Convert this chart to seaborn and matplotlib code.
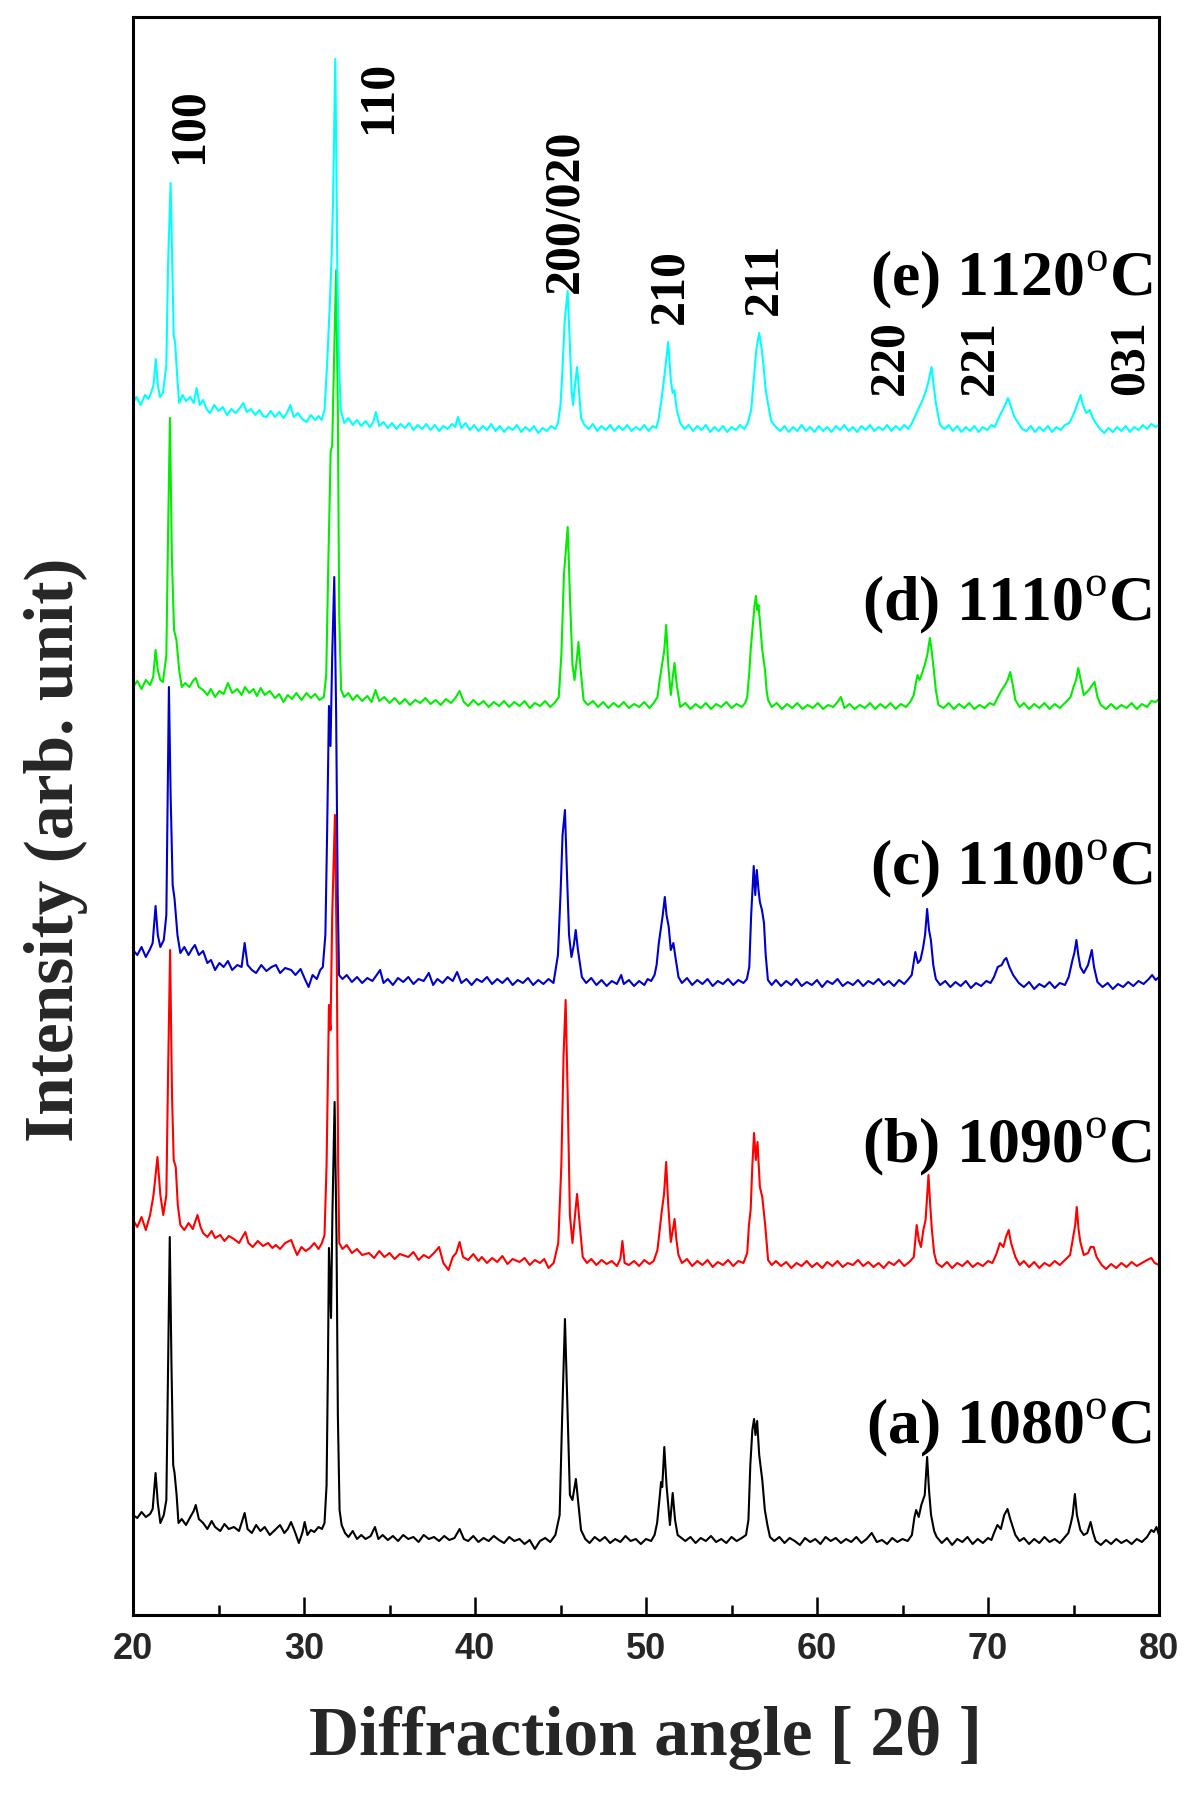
import matplotlib
matplotlib.use("Agg")
import matplotlib.pyplot as plt
import seaborn as sns
import numpy as np
import pandas as pd
from matplotlib.ticker import MultipleLocator

# ---------------- data (2theta, intensity in arbitrary units, stacked) ----------------
pattern_a = [(20.0,100),(20.25,97),(20.5,103),(20.75,98),(21.0,101),(21.15,106),(21.32,142),(21.45,112),(21.6,92),(21.8,100),(21.95,115),(22.05,250),(22.15,378),(22.25,250),(22.35,150),(22.43,142),(22.55,120),(22.66,92),(22.85,96),(23.1,90),(23.35,98),(23.55,104),(23.67,110),(23.85,96),(24.1,92),(24.35,86),(24.6,94),(24.8,88),(25.1,84),(25.35,91),(25.6,86),(25.9,88),(26.2,84),(26.53,102),(26.7,86),(26.95,82),(27.2,90),(27.45,84),(27.7,88),(28.0,80),(28.3,85),(28.6,90),(28.85,82),(29.05,86),(29.24,93),(29.45,84),(29.7,72),(29.9,82),(30.04,93),(30.2,80),(30.4,85),(30.6,83),(30.85,88),(31.05,86),(31.2,92),(31.32,130),(31.4,250),(31.46,367),(31.52,330),(31.58,297),(31.66,400),(31.79,513),(31.9,380),(31.98,200),(32.08,105),(32.2,90),(32.4,82),(32.6,78),(32.85,84),(33.1,76),(33.35,80),(33.6,76),(33.9,79),(34.15,88),(34.35,76),(34.6,80),(34.9,75),(35.2,79),(35.5,74),(35.8,80),(36.1,76),(36.4,78),(36.7,73),(37.0,80),(37.3,76),(37.6,78),(37.9,74),(38.2,79),(38.5,75),(38.8,77),(39.1,86),(39.35,76),(39.6,74),(39.9,79),(40.2,73),(40.5,77),(40.8,74),(41.1,79),(41.4,75),(41.7,72),(42.0,78),(42.3,74),(42.6,76),(42.9,71),(43.2,75),(43.5,66),(43.8,74),(44.1,77),(44.4,73),(44.7,80),(44.95,100),(45.1,200),(45.26,296),(45.4,210),(45.55,120),(45.7,115),(45.9,136),(46.05,110),(46.2,85),(46.45,76),(46.7,72),(47.0,78),(47.3,74),(47.6,78),(47.9,72),(48.2,76),(48.5,73),(48.8,79),(49.1,74),(49.4,76),(49.7,71),(50.0,76),(50.3,74),(50.5,80),(50.65,92),(50.8,118),(50.88,133),(50.95,128),(51.07,168),(51.2,130),(51.4,90),(51.56,122),(51.7,95),(51.85,80),(52.0,78),(52.3,74),(52.6,78),(52.9,72),(53.2,77),(53.5,74),(53.8,79),(54.1,73),(54.4,76),(54.7,72),(55.0,78),(55.3,74),(55.6,77),(55.85,80),(55.99,95),(56.1,150),(56.22,185),(56.32,196),(56.4,180),(56.5,194),(56.62,160),(56.8,135),(56.95,105),(57.1,90),(57.25,78),(57.5,74),(57.8,78),(58.1,72),(58.4,77),(58.7,74),(59.0,70),(59.3,77),(59.6,73),(59.9,76),(60.2,71),(60.5,78),(60.8,74),(61.1,77),(61.4,72),(61.7,76),(62.0,73),(62.3,78),(62.6,72),(62.9,76),(63.2,82),(63.5,73),(63.8,75),(64.1,71),(64.4,77),(64.7,73),(65.0,76),(65.3,74),(65.55,80),(65.7,98),(65.8,105),(65.95,98),(66.1,110),(66.3,120),(66.44,158),(66.55,125),(66.67,100),(66.85,84),(67.0,78),(67.3,72),(67.6,77),(67.9,70),(68.2,76),(68.5,73),(68.8,78),(69.1,71),(69.4,76),(69.7,72),(70.0,77),(70.2,75),(70.35,82),(70.55,90),(70.75,86),(70.95,100),(71.14,106),(71.3,96),(71.45,88),(71.6,80),(71.85,74),(72.1,77),(72.4,71),(72.7,76),(73.0,72),(73.3,78),(73.6,73),(73.9,76),(74.2,72),(74.5,78),(74.7,82),(74.85,92),(74.95,100),(75.08,121),(75.2,100),(75.4,85),(75.6,80),(75.8,82),(76.0,93),(76.15,82),(76.3,74),(76.6,70),(76.9,75),(77.2,71),(77.5,76),(77.8,72),(78.1,75),(78.4,71),(78.7,76),(79.0,73),(79.3,78),(79.55,85),(79.7,83),(79.85,88),(80.0,80)]

pattern_b = [(20.0,395),(20.25,388),(20.5,398),(20.75,385),(21.0,400),(21.2,420),(21.43,458),(21.6,420),(21.77,400),(21.95,420),(22.05,540),(22.17,665),(22.28,520),(22.38,455),(22.5,448),(22.62,410),(22.77,390),(23.0,385),(23.25,392),(23.5,386),(23.77,400),(23.95,388),(24.1,382),(24.35,378),(24.6,384),(24.8,377),(25.1,380),(25.35,374),(25.6,379),(25.9,376),(26.2,372),(26.57,383),(26.75,372),(27.0,368),(27.3,374),(27.6,369),(27.9,372),(28.15,367),(28.35,370),(28.6,366),(28.9,372),(29.25,375),(29.45,366),(29.6,360),(29.85,368),(30.1,364),(30.35,367),(30.6,372),(30.85,366),(31.05,372),(31.2,380),(31.32,450),(31.46,610),(31.55,585),(31.65,700),(31.81,800),(31.92,650),(32.0,450),(32.06,372),(32.25,366),(32.5,370),(32.8,362),(33.1,366),(33.4,360),(33.8,362),(34.1,357),(34.4,364),(34.7,358),(35.0,362),(35.3,356),(35.6,361),(36.1,358),(36.4,363),(36.7,355),(37.0,360),(37.3,357),(37.6,362),(37.9,368),(38.15,352),(38.45,345),(38.7,358),(38.9,362),(39.1,373),(39.3,358),(39.6,355),(39.9,361),(40.2,354),(40.4,358),(40.7,352),(41.0,357),(41.3,353),(41.6,359),(41.9,351),(42.2,356),(42.6,353),(42.9,357),(43.2,350),(43.5,355),(43.8,352),(44.05,356),(44.3,347),(44.6,352),(44.87,372),(45.05,450),(45.18,560),(45.3,615),(45.42,520),(45.55,400),(45.7,372),(45.85,400),(45.97,421),(46.1,395),(46.3,358),(46.55,352),(46.8,356),(47.1,350),(47.4,355),(47.7,351),(48.0,354),(48.3,349),(48.5,356),(48.62,374),(48.75,352),(49.0,350),(49.3,354),(49.6,349),(49.9,355),(50.2,351),(50.45,354),(50.67,365),(50.8,385),(50.93,405),(51.05,420),(51.18,453),(51.3,410),(51.45,373),(51.57,385),(51.67,396),(51.78,375),(51.9,360),(52.1,352),(52.4,356),(52.7,349),(53.0,354),(53.3,350),(53.6,355),(53.9,348),(54.2,353),(54.5,350),(54.8,355),(55.1,349),(55.4,354),(55.7,352),(55.92,362),(56.02,390),(56.12,405),(56.22,450),(56.32,482),(56.42,455),(56.52,473),(56.66,428),(56.8,418),(56.97,390),(57.14,355),(57.35,350),(57.6,354),(57.9,349),(58.2,353),(58.5,347),(58.8,352),(59.1,349),(59.4,354),(59.7,348),(60.0,352),(60.3,347),(60.6,353),(60.9,349),(61.2,354),(61.5,348),(61.8,352),(62.1,350),(62.4,355),(62.7,349),(63.0,353),(63.3,348),(63.6,352),(63.9,347),(64.2,353),(64.5,350),(64.8,355),(65.1,349),(65.4,353),(65.66,358),(65.83,390),(65.95,375),(66.08,368),(66.22,385),(66.35,395),(66.52,440),(66.62,410),(66.72,385),(66.85,362),(67.0,352),(67.3,348),(67.6,353),(67.9,347),(68.2,352),(68.5,349),(68.8,354),(69.1,348),(69.4,352),(69.7,349),(70.0,354),(70.25,352),(70.47,360),(70.7,372),(70.9,368),(71.05,378),(71.21,385),(71.35,372),(71.6,358),(71.85,350),(72.1,354),(72.4,348),(72.7,353),(73.0,347),(73.3,352),(73.6,349),(73.9,354),(74.2,350),(74.5,355),(74.8,360),(74.95,375),(75.1,390),(75.19,408),(75.3,385),(75.4,373),(75.6,360),(75.85,362),(76.0,368),(76.18,368),(76.35,358),(76.65,350),(76.9,346),(77.2,351),(77.5,347),(77.8,352),(78.1,348),(78.4,353),(78.7,349),(79.0,352),(79.3,355),(79.55,357),(79.75,352),(80.0,350)]

pattern_c = [(20.0,665),(20.25,660),(20.5,668),(20.75,658),(21.0,666),(21.15,672),(21.32,709),(21.45,680),(21.6,668),(21.8,675),(21.95,700),(22.03,820),(22.1,928),(22.2,820),(22.32,730),(22.43,716),(22.6,680),(22.77,662),(23.0,668),(23.25,660),(23.45,666),(23.62,670),(23.85,660),(24.1,664),(24.35,652),(24.56,655),(24.8,645),(25.05,652),(25.3,648),(25.55,654),(25.8,645),(26.1,650),(26.35,648),(26.53,672),(26.7,650),(26.95,645),(27.2,642),(27.5,650),(27.8,644),(28.1,648),(28.36,650),(28.6,642),(28.9,647),(29.25,645),(29.5,640),(29.8,646),(30.05,636),(30.27,628),(30.5,640),(30.75,636),(30.95,645),(31.1,648),(31.25,680),(31.35,780),(31.46,909),(31.55,869),(31.65,960),(31.77,1038),(31.88,900),(31.97,720),(32.05,640),(32.25,636),(32.5,640),(32.8,633),(33.1,638),(33.4,632),(33.7,637),(34.0,634),(34.25,640),(34.45,645),(34.65,632),(34.9,636),(35.2,630),(35.5,637),(35.8,633),(36.1,638),(36.4,631),(36.7,636),(37.0,634),(37.3,642),(37.55,630),(37.8,636),(38.1,632),(38.4,638),(38.7,634),(38.95,643),(39.2,632),(39.5,636),(39.8,630),(40.1,636),(40.4,633),(40.7,638),(41.0,631),(41.3,636),(41.6,632),(41.9,637),(42.2,630),(42.5,635),(42.8,632),(43.1,637),(43.4,630),(43.7,635),(44.0,631),(44.3,636),(44.59,632),(44.85,660),(45.0,720),(45.12,780),(45.26,805),(45.38,740),(45.5,680),(45.64,658),(45.78,670),(45.89,685),(46.02,665),(46.25,638),(46.5,632),(46.8,637),(47.1,630),(47.4,635),(47.7,629),(48.0,634),(48.3,631),(48.55,640),(48.7,631),(49.0,635),(49.3,629),(49.6,634),(49.9,630),(50.1,636),(50.3,634),(50.5,640),(50.62,650),(50.75,672),(50.88,688),(50.98,700),(51.1,718),(51.2,700),(51.33,688),(51.45,665),(51.6,672),(51.72,658),(51.9,638),(52.1,632),(52.4,637),(52.7,630),(53.0,635),(53.3,631),(53.6,636),(53.9,629),(54.2,634),(54.5,631),(54.8,636),(55.1,630),(55.4,635),(55.7,632),(55.9,636),(56.04,648),(56.15,700),(56.3,749),(56.39,720),(56.48,745),(56.58,725),(56.66,713),(56.78,705),(56.9,692),(57.0,660),(57.13,635),(57.35,630),(57.6,635),(57.9,629),(58.2,634),(58.5,630),(58.8,636),(59.1,629),(59.4,633),(59.7,630),(60.0,635),(60.3,628),(60.6,634),(60.9,631),(61.2,636),(61.5,629),(61.8,633),(62.1,630),(62.4,635),(62.7,629),(63.0,634),(63.3,631),(63.6,636),(63.9,630),(64.2,634),(64.5,629),(64.8,635),(65.1,631),(65.35,636),(65.54,640),(65.75,663),(65.9,652),(66.05,655),(66.2,667),(66.32,680),(66.44,706),(66.55,685),(66.66,675),(66.8,650),(66.95,636),(67.2,630),(67.5,634),(67.8,628),(68.1,633),(68.4,629),(68.7,634),(69.0,627),(69.3,632),(69.6,629),(69.9,634),(70.15,632),(70.35,638),(70.57,648),(70.8,650),(70.95,655),(71.07,657),(71.25,648),(71.47,640),(71.8,632),(72.1,628),(72.4,633),(72.7,626),(73.0,631),(73.3,628),(73.6,633),(73.9,627),(74.2,632),(74.5,630),(74.72,638),(74.94,655),(75.05,662),(75.17,675),(75.28,660),(75.4,648),(75.6,642),(75.85,650),(76.07,665),(76.2,648),(76.4,633),(76.7,628),(77.0,632),(77.3,626),(77.6,631),(77.9,628),(78.2,633),(78.5,629),(78.8,634),(79.1,631),(79.4,636),(79.6,640),(79.8,635),(80.0,638)]

pattern_d = [(20.0,928),(20.25,934),(20.5,926),(20.75,935),(21.0,930),(21.18,938),(21.32,965),(21.45,945),(21.6,935),(21.75,933),(21.95,960),(22.05,1080),(22.16,1197),(22.27,1060),(22.4,985),(22.54,975),(22.7,945),(22.85,928),(23.05,932),(23.3,928),(23.5,934),(23.67,937),(23.85,928),(24.1,925),(24.35,920),(24.55,926),(24.8,918),(25.05,924),(25.3,921),(25.55,932),(25.8,922),(26.1,926),(26.35,920),(26.55,928),(26.8,922),(27.05,926),(27.25,919),(27.47,927),(27.7,920),(28.0,924),(28.3,917),(28.55,921),(28.8,913),(29.05,920),(29.3,916),(29.55,922),(29.85,915),(30.15,922),(30.4,917),(30.65,921),(30.9,915),(31.16,918),(31.3,940),(31.42,1050),(31.56,1163),(31.65,1170),(31.75,1250),(31.88,1345),(31.98,1200),(32.06,1000),(32.17,925),(32.35,918),(32.6,922),(32.85,915),(33.1,920),(33.4,914),(33.7,919),(33.95,913),(34.18,925),(34.4,914),(34.7,918),(35.0,912),(35.3,917),(35.6,911),(35.9,916),(36.2,910),(36.5,915),(36.8,912),(37.1,917),(37.4,911),(37.7,915),(38.0,910),(38.3,916),(38.6,912),(38.85,917),(39.1,924),(39.35,913),(39.6,909),(39.9,915),(40.2,910),(40.5,914),(40.8,908),(41.1,913),(41.4,909),(41.7,914),(42.0,908),(42.3,913),(42.6,909),(42.9,914),(43.2,907),(43.5,912),(43.8,909),(44.1,914),(44.4,908),(44.65,912),(44.9,918),(45.05,960),(45.2,1040),(45.42,1088),(45.55,1020),(45.7,950),(45.82,935),(45.95,955),(46.05,973),(46.18,945),(46.35,915),(46.6,910),(46.9,914),(47.2,908),(47.5,913),(47.8,907),(48.1,912),(48.4,908),(48.7,913),(49.0,907),(49.3,911),(49.6,908),(49.9,913),(50.2,907),(50.45,912),(50.67,918),(50.8,935),(50.96,953),(51.07,965),(51.18,990),(51.3,950),(51.45,920),(51.58,940),(51.67,952),(51.8,930),(52.0,908),(52.3,912),(52.6,906),(52.9,911),(53.2,907),(53.5,912),(53.8,906),(54.1,911),(54.4,908),(54.7,913),(55.0,907),(55.3,911),(55.6,908),(55.8,912),(55.92,918),(56.05,945),(56.12,965),(56.25,990),(56.35,1010),(56.43,1019),(56.5,1005),(56.58,1010),(56.7,985),(56.8,965),(56.96,945),(57.05,925),(57.14,915),(57.35,908),(57.65,912),(57.95,906),(58.25,911),(58.55,907),(58.85,912),(59.15,906),(59.45,910),(59.75,907),(60.05,912),(60.35,906),(60.65,910),(60.95,908),(61.2,913),(61.4,918),(61.6,907),(61.9,911),(62.2,906),(62.5,910),(62.8,907),(63.1,912),(63.4,906),(63.7,911),(64.0,907),(64.3,912),(64.6,906),(64.9,911),(65.2,908),(65.45,913),(65.66,920),(65.78,932),(65.88,940),(66.0,935),(66.15,942),(66.3,950),(66.45,960),(66.6,977),(66.7,965),(66.83,945),(66.95,925),(67.1,910),(67.4,907),(67.7,912),(68.0,906),(68.3,911),(68.6,907),(68.9,912),(69.2,906),(69.5,910),(69.8,907),(70.1,912),(70.35,910),(70.58,918),(70.8,925),(71.0,930),(71.15,935),(71.3,943),(71.45,930),(71.6,915),(71.85,908),(72.1,912),(72.4,906),(72.7,911),(73.0,907),(73.3,912),(73.6,906),(73.9,911),(74.2,907),(74.5,912),(74.83,918),(75.0,928),(75.15,935),(75.28,947),(75.42,935),(75.6,920),(75.9,925),(76.1,930),(76.23,933),(76.4,918),(76.6,910),(76.9,906),(77.2,911),(77.5,906),(77.8,910),(78.1,907),(78.4,912),(78.7,906),(79.0,911),(79.3,908),(79.55,914),(79.8,913),(80.0,916)]

pattern_e = [(20.0,1212),(20.2,1218),(20.45,1210),(20.7,1220),(20.9,1216),(21.05,1222),(21.2,1230),(21.33,1256),(21.45,1230),(21.58,1218),(21.75,1222),(21.95,1250),(22.05,1350),(22.2,1432),(22.3,1350),(22.38,1280),(22.46,1273),(22.58,1240),(22.7,1212),(22.9,1220),(23.1,1214),(23.35,1218),(23.55,1212),(23.72,1227),(23.9,1210),(24.1,1215),(24.3,1206),(24.5,1202),(24.75,1210),(25.0,1204),(25.25,1208),(25.5,1200),(25.75,1206),(26.0,1202),(26.25,1207),(26.45,1212),(26.65,1203),(26.9,1206),(27.15,1200),(27.4,1205),(27.6,1199),(27.8,1198),(28.05,1204),(28.3,1198),(28.55,1203),(28.8,1197),(29.0,1202),(29.2,1210),(29.4,1198),(29.65,1202),(29.9,1196),(30.15,1193),(30.4,1200),(30.65,1195),(30.85,1199),(31.03,1195),(31.2,1205),(31.35,1250),(31.52,1315),(31.62,1360),(31.7,1415),(31.83,1556),(31.9,1440),(31.95,1342),(32.05,1250),(32.15,1205),(32.35,1192),(32.6,1197),(32.85,1190),(33.1,1195),(33.35,1189),(33.6,1194),(33.85,1188),(34.05,1193),(34.2,1203),(34.4,1189),(34.65,1193),(34.9,1187),(35.15,1192),(35.4,1186),(35.65,1191),(35.9,1187),(36.15,1192),(36.4,1185),(36.65,1190),(36.9,1186),(37.15,1191),(37.4,1185),(37.65,1190),(37.9,1184),(38.15,1189),(38.4,1186),(38.65,1191),(38.85,1188),(39.0,1198),(39.2,1187),(39.45,1192),(39.7,1185),(39.95,1190),(40.2,1184),(40.45,1189),(40.7,1185),(40.95,1191),(41.2,1184),(41.45,1189),(41.7,1183),(41.95,1188),(42.2,1185),(42.45,1190),(42.7,1183),(42.95,1188),(43.2,1184),(43.45,1189),(43.7,1182),(43.95,1187),(44.2,1184),(44.45,1189),(44.7,1186),(44.85,1192),(45.0,1210),(45.1,1240),(45.25,1295),(45.42,1324),(45.55,1270),(45.65,1225),(45.73,1210),(45.85,1230),(45.97,1248),(46.08,1225),(46.2,1197),(46.4,1190),(46.65,1186),(46.9,1191),(47.15,1184),(47.4,1189),(47.65,1185),(47.9,1190),(48.15,1184),(48.4,1189),(48.65,1185),(48.9,1190),(49.15,1184),(49.4,1188),(49.65,1185),(49.9,1190),(50.15,1184),(50.4,1189),(50.6,1187),(50.73,1195),(50.9,1215),(51.05,1235),(51.18,1255),(51.3,1273),(51.45,1235),(51.56,1222),(51.66,1225),(51.8,1205),(52.0,1192),(52.25,1186),(52.5,1190),(52.75,1184),(53.0,1189),(53.25,1185),(53.5,1190),(53.75,1183),(54.0,1188),(54.25,1184),(54.5,1189),(54.75,1183),(55.0,1188),(55.25,1185),(55.5,1190),(55.75,1186),(55.95,1192),(56.15,1205),(56.3,1235),(56.45,1265),(56.62,1282),(56.75,1268),(56.87,1250),(57.0,1225),(57.1,1215),(57.25,1200),(57.35,1193),(57.6,1188),(57.85,1184),(58.1,1189),(58.35,1183),(58.6,1188),(58.85,1184),(59.1,1190),(59.35,1184),(59.6,1188),(59.85,1183),(60.1,1189),(60.35,1184),(60.6,1188),(60.85,1183),(61.1,1189),(61.35,1185),(61.6,1190),(61.85,1184),(62.1,1188),(62.35,1183),(62.6,1189),(62.85,1185),(63.1,1190),(63.35,1184),(63.6,1188),(63.85,1185),(64.1,1190),(64.35,1184),(64.6,1189),(64.85,1185),(65.1,1190),(65.35,1186),(65.55,1192),(65.72,1198),(65.9,1205),(66.1,1212),(66.33,1222),(66.5,1232),(66.7,1248),(66.82,1230),(66.95,1212),(67.08,1200),(67.2,1190),(67.45,1186),(67.7,1190),(67.95,1184),(68.2,1189),(68.45,1183),(68.7,1188),(68.95,1184),(69.2,1189),(69.45,1183),(69.7,1188),(69.95,1185),(70.2,1190),(70.4,1188),(70.57,1195),(70.8,1203),(71.0,1210),(71.17,1217),(71.35,1208),(71.5,1200),(71.65,1195),(71.85,1190),(72.0,1186),(72.25,1184),(72.5,1189),(72.75,1183),(73.0,1188),(73.25,1184),(73.5,1189),(73.75,1183),(74.0,1188),(74.25,1185),(74.5,1190),(74.75,1192),(74.93,1198),(75.1,1205),(75.25,1212),(75.42,1220),(75.55,1210),(75.75,1202),(75.95,1205),(76.1,1198),(76.3,1192),(76.55,1186),(76.8,1182),(77.05,1187),(77.3,1183),(77.55,1188),(77.8,1184),(78.05,1189),(78.3,1183),(78.55,1188),(78.8,1185),(79.05,1190),(79.3,1186),(79.55,1191),(79.8,1188),(80.0,1190)]

series_names = ["(a) 1080", "(b) 1090", "(c) 1100", "(d) 1110", "(e) 1120"]
series_colors = ["#000000", "#FF0000", "#0000CC", "#00EE00", "#00FFFF"]
series_data = [pattern_a, pattern_b, pattern_c, pattern_d, pattern_e]
series_label_y = [172, 453, 731, 995, 1320]

peak_labels = ["100", "110", "200/020", "210", "211", "220", "221", "031"]
peak_label_x = [23.33, 34.33, 45.32, 51.40, 56.96, 64.27, 69.59, 78.36]
peak_label_y = [1452, 1482, 1322, 1291, 1300, 1220, 1220, 1220]

x_ticks = [20, 30, 40, 50, 60, 70, 80]

# ---------------- style ----------------
sns.set_theme(style="white")
plt.rcParams["font.family"] = ["Liberation Serif", "DejaVu Serif"]
plt.rcParams["mathtext.fontset"] = "custom"
plt.rcParams["mathtext.rm"] = "Liberation Serif"
plt.rcParams["mathtext.bf"] = "Liberation Serif:bold"

fig = plt.figure(figsize=(12, 17.96), dpi=100)
ax = fig.add_axes([133/1200, 1 - 1615/1796, (1159-133)/1200, (1615-17)/1796])

for name, col, data in zip(series_names, series_colors, series_data):
    df = pd.DataFrame(data, columns=["two_theta", "intensity"])
    sns.lineplot(data=df, x="two_theta", y="intensity", color=col, lw=1.5,
                 estimator=None, sort=False, ax=ax, legend=False)

ax.set_xlim(20, 80)
ax.set_ylim(0, 1598)
ax.set_xlabel("")
ax.set_ylabel("")
ax.set_yticks([])
ax.set_xticks(x_ticks)
ax.xaxis.set_minor_locator(MultipleLocator(5))
ax.tick_params(axis="x", which="major", direction="in", length=13, width=1.8,
               bottom=True, top=False, pad=12, color="black")
ax.tick_params(axis="x", which="minor", direction="in", length=7, width=1.8,
               bottom=True, top=False, color="black")
for lab in ax.get_xticklabels():
    lab.set_fontfamily(["Liberation Sans Narrow", "Liberation Sans", "DejaVu Sans"])
    lab.set_fontweight("bold")
    lab.set_fontsize(26)
for sp in ax.spines.values():
    sp.set_linewidth(2.2)
    sp.set_color("black")

# series labels
for name, yv in zip(series_names, series_label_y):
    ax.text(79.6, yv, name + r"$^{\mathrm{o}}$C", ha="right", va="baseline",
            fontsize=46, fontweight="bold", color="black")

# peak labels
for lab, xv, yv in zip(peak_labels, peak_label_x, peak_label_y):
    ax.text(xv, yv, lab, rotation=90, ha="center", va="bottom",
            fontsize=36, fontweight="bold", color="black")

fig.text(0.538, 1 - 1755/1796, "Diffraction angle [ 2\u03b8 ]", ha="center", va="baseline",
         fontsize=50, fontweight="bold")
fig.text(0.047, 1 - 850/1796, "Intensity (arb. unit)", rotation=90, ha="center", va="center",
         fontsize=50, fontweight="bold")

fig.savefig("out.png", dpi=100)
